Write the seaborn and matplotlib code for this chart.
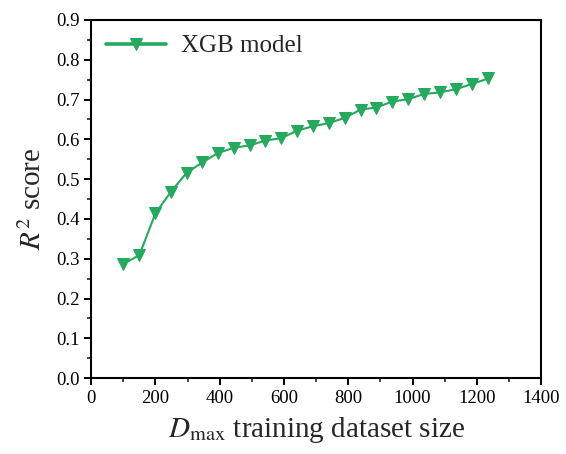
import matplotlib
matplotlib.use("Agg")
import matplotlib.pyplot as plt
import matplotlib.ticker as mticker
import seaborn as sns
import pandas as pd

dataset_size = [100, 150, 200, 248, 297, 346, 395, 445, 494, 542, 591, 641,
                690, 740, 789, 839, 887, 937, 986, 1036, 1085, 1135, 1184, 1236]
r2_score = [0.287, 0.309, 0.414, 0.468, 0.516, 0.542, 0.566, 0.579, 0.585, 0.597, 0.603, 0.622,
            0.633, 0.641, 0.654, 0.675, 0.680, 0.695, 0.701, 0.714, 0.718, 0.726, 0.739, 0.753]
series_name = "XGB model"

df = pd.DataFrame({"size": dataset_size, "r2": r2_score, "model": series_name})

sns.set_theme(style="ticks")
plt.rcParams["font.family"] = ["Liberation Serif", "DejaVu Serif"]
plt.rcParams["mathtext.fontset"] = "stix"

fig = plt.figure(figsize=(5.66, 4.54), dpi=100)
ax = fig.add_axes([0.161, 0.167, 0.795, 0.789])

green = "#27a85f"
sns.lineplot(data=df, x="size", y="r2", hue="model", palette=[green], marker="v",
             markersize=8.5, markeredgecolor=green, linewidth=1.5, ax=ax)

ax.set_xlim(0, 1400)
ax.set_ylim(0, 0.9)
ax.xaxis.set_major_locator(mticker.MultipleLocator(200))
ax.xaxis.set_minor_locator(mticker.MultipleLocator(100))
ax.yaxis.set_major_locator(mticker.MultipleLocator(0.1))
ax.yaxis.set_minor_locator(mticker.MultipleLocator(0.05))
ax.yaxis.set_major_formatter(mticker.FormatStrFormatter("%.1f"))

ax.tick_params(axis="both", which="major", direction="out", length=5, width=1.4,
               labelsize=13.5, colors="black", top=False, right=False)
ax.tick_params(axis="both", which="minor", direction="out", length=3, width=1.2,
               top=False, right=False)
for sp in ax.spines.values():
    sp.set_linewidth(1.5)
    sp.set_color("black")
    sp.set_visible(True)

ax.set_xlabel(r"$D_{\mathrm{max}}$ training dataset size", fontsize=21, labelpad=6)
ax.set_ylabel(r"$R^2$ score", fontsize=21, labelpad=6)

leg = ax.legend(title=None, loc="upper left", frameon=False, fontsize=18,
                handlelength=2.4, borderaxespad=0.2, handletextpad=0.6)
for h in leg.legend_handles:
    h.set_linewidth(2.6)

fig.savefig("out.png", dpi=100)
